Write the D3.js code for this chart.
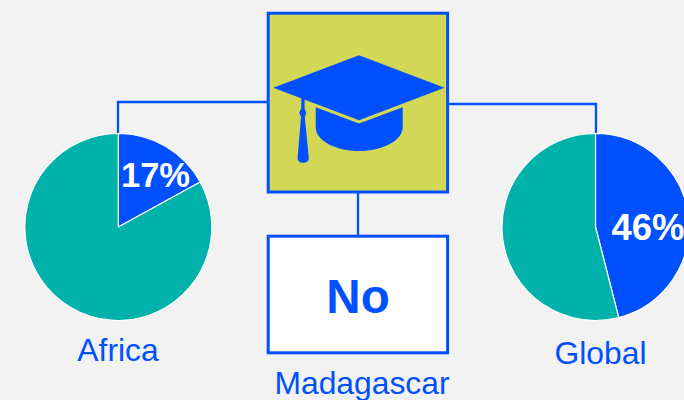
<!DOCTYPE html>
<html><head><meta charset="utf-8">
<script src="https://cdn.jsdelivr.net/npm/d3@7"></script>
<style>html,body{margin:0;padding:0;background:#f2f2f2;overflow:hidden}svg{display:block}text{font-family:"Liberation Sans",Arial,sans-serif}</style>
</head><body><svg id="c" width="684" height="400"></svg>
<script>
const regions = ["Africa", "Global"];
const yesValues = [17, 46];
const noValues = [83, 54];
const centerAnswer = "No";
const centerRegion = "Madagascar";
const BLUE = "#0050ff", TEAL = "#00b2a9", YELLOW = "#d2d755";

const svg = d3.select("#c");
const pieLayouts = [
  {cx:118.3, cy:227, r:93.5, lx:118, ly:360.5, tx:155.5, ty:187, fs:34.5},
  {cx:595.5, cy:227, r:93.5, lx:600.5, ly:363.5, tx:648, ty:240, fs:36.5}
];
const pie = d3.pie().sort(null).value(d=>d);

// connectors
const conn = svg.append("g").attr("fill","none").attr("stroke",BLUE).attr("stroke-width",2.3);
conn.append("path").attr("d","M118,134V102H268");
conn.append("path").attr("d","M448,104H596V134");
conn.append("path").attr("d","M358,192V236");

// pies
regions.forEach((name,i)=>{
  const L = pieLayouts[i];
  const arc = d3.arc().innerRadius(0).outerRadius(L.r);
  const g = svg.append("g").attr("transform",`translate(${L.cx},${L.cy})`);
  g.selectAll("path").data(pie([yesValues[i],noValues[i]])).join("path")
    .attr("d",arc).attr("fill",(d,j)=>j===0?BLUE:TEAL)
    .attr("stroke","#fff").attr("stroke-width",1.2).attr("stroke-linejoin","round");
  svg.append("text").attr("x",L.tx).attr("y",L.ty).attr("text-anchor","middle")
    .attr("font-size",L.fs).attr("font-weight","bold").attr("fill","#fff").text(yesValues[i]+"%");
  svg.append("text").attr("x",L.lx).attr("y",L.ly).attr("text-anchor","middle")
    .attr("font-size",31.8).attr("fill",BLUE).text(name);
});

// icon box
svg.append("rect").attr("x",268.2).attr("y",13.2).attr("width",179.4).attr("height",178.8)
  .attr("fill",YELLOW).attr("stroke",BLUE).attr("stroke-width",3);
const cap = svg.append("g").attr("fill",BLUE);
cap.append("path").attr("d","M359,55.3L444.5,87.8L359,120.2L273.3,87.8Z");
cap.append("path").attr("d","M315.7,107.3L359,123.6L402.7,107.3V127C402.7,141 382,151 359,151C336,151 315.7,141 315.7,127Z");
cap.append("path").attr("d","M301.4,97L304.6,98V108.5L306.2,112.7L304.8,117L308.8,158C309,164.5 297.4,164.5 297.6,158L301,117L299.2,112.7L301.2,108.5Z");

// answer box
svg.append("rect").attr("x",268.2).attr("y",236.2).attr("width",179.4).attr("height",116.6)
  .attr("fill","#fff").attr("stroke",BLUE).attr("stroke-width",3);
svg.append("text").attr("x",358).attr("y",313).attr("text-anchor","middle")
  .attr("font-size",47.5).attr("font-weight","bold").attr("fill",BLUE).text(centerAnswer);
svg.append("text").attr("x",362).attr("y",394).attr("text-anchor","middle")
  .attr("font-size",31.8).attr("fill",BLUE).text(centerRegion);
</script></body></html>
